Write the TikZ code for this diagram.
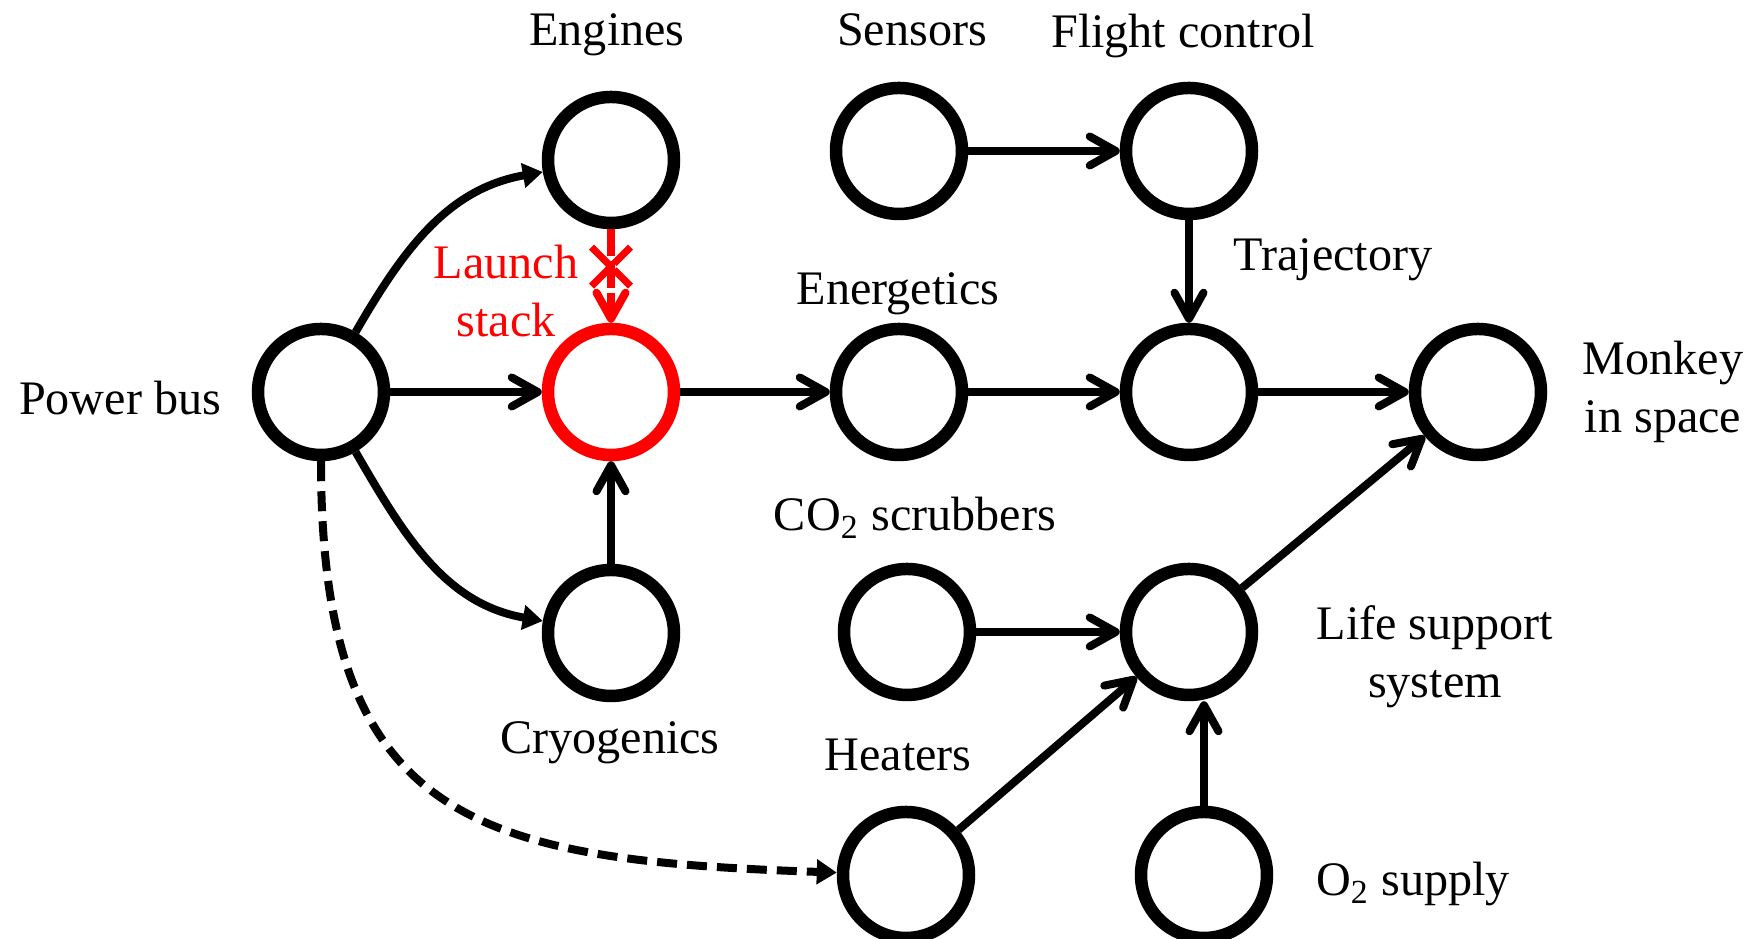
\documentclass[tikz,border=0pt]{standalone}
\usepackage{fontspec}
\setmainfont{Liberation Serif}
\usepackage{xcolor}
\usepackage{tikz}
\usetikzlibrary{arrows.meta, shapes.misc}

\begin{document}
\begin{tikzpicture}[
    unit/.style={circle, draw=black, line width=1.25mm, minimum size=12.6mm, inner sep=0pt},
    lbl/.style={font=\fontsize{13.7}{16.6}\selectfont, anchor=base, align=center, inner sep=0pt},
    link/.style={line width=0.8mm, -{Straight Barb[length=2.6mm, width=2.9mm, round]}},
    feed/.style={line width=0.8mm, -{Triangle[length=2mm, width=2.4mm]}},
]
    \useasboundingbox (0,0) rectangle (17.45,9.39);

    \node[unit] (bus) at (3.21,5.47) {};
    \node[unit] (engines) at (6.11,7.79) {};
    \node[unit, draw=red] (stack) at (6.11,5.47) {};
    \node[unit] (cryo) at (6.11,3.06) {};
    \node[unit] (sensors) at (8.99,7.88) {};
    \node[unit] (flight) at (11.89,7.88) {};
    \node[unit] (energy) at (8.99,5.47) {};
    \node[unit] (traj) at (11.89,5.47) {};
    \node[unit] (monkey) at (14.78,5.47) {};
    \node[unit] (scrub) at (9.07,3.07) {};
    \node[unit] (life) at (11.89,3.07) {};
    \node[unit] (heat) at (9.06,0.64) {};
    \node[unit] (oxy) at (12.04,0.64) {};

    \node[lbl] (busL) at (1.20,5.24) {Power bus};
    \node[lbl] (enginesL) at (6.07,8.93) {Engines};
    \node[lbl, red] (stackL) at (5.06,6.02) {Launch\\stack};
    \node[lbl] (cryoL) at (6.10,1.85) {Cryogenics};
    \node[lbl] (sensorsL) at (9.12,8.93) {Sensors};
    \node[lbl] (flightL) at (11.83,8.91) {Flight control};
    \node[lbl] (energyL) at (8.98,6.34) {Energetics};
    \node[lbl] (trajL) at (13.33,6.68) {Trajectory};
    \node[lbl] (monkeyL) at (16.63,5.06) {Monkey\\in space};
    \node[lbl] (scrubL) at (9.15,4.08) {CO\textsubscript{2} scrubbers};
    \node[lbl] (lifeL) at (14.35,2.41) {Life support\\system};
    \node[lbl] (heatL) at (8.98,1.68) {Heaters};
    \node[lbl] (oxyL) at (14.13,0.43) {O\textsubscript{2} supply};

    \draw[feed] (bus) to[out=60, in=190] (engines);
    \draw[feed] (bus) to[out=-60, in=170] (cryo);
    \draw[feed, dash pattern=on 2mm off 1mm] (bus) to[out=-90, in=178, looseness=1.4] (heat);
    \draw[link] (bus) -- (stack);
    \draw[link, red, dash pattern=on 2.7mm off 0.5mm] (engines) -- (stack)
        node[pos=0.4, cross out, draw=red, line width=0.7mm, minimum size=3.2mm, inner sep=0pt] (cut) {};
    \draw[link] (cryo) -- (stack);
    \draw[link] (stack) -- (energy);
    \draw[link] (energy) -- (traj);
    \draw[link] (sensors) -- (flight);
    \draw[link] (flight) -- (traj);
    \draw[link] (traj) -- (monkey);
    \draw[link] (scrub) -- (life);
    \draw[link] (heat) -- (life);
    \draw[link] (oxy.north) -- (oxy.north |- life.south);
    \draw[link] (life) -- (monkey);
\end{tikzpicture}
\end{document}
